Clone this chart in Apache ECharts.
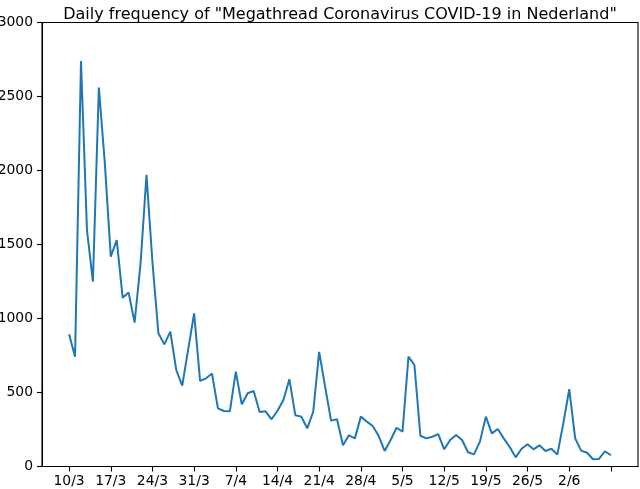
<!DOCTYPE html>
<html>
<head>
<meta charset="utf-8">
<script src="https://cdn.jsdelivr.net/npm/echarts@6/dist/echarts.min.js"></script>
<style>html,body{margin:0;padding:0;background:#fff}#c{width:640px;height:489px}</style>
</head>
<body>
<div id="c"></div>
<script>
const titleText = 'Daily frequency of "Megathread Coronavirus COVID-19 in Nederland"';
// one value per day, starting 10/3 and ending 9/6
const dailyCounts = [
  893, 742, 2740, 1598, 1249, 2560, 2050, 1418, 1530, 1141,
  1175, 972, 1370, 1970, 1380, 900, 825, 911, 652, 546,
  790, 1035, 578, 596, 628, 393, 375, 373, 641, 420,
  495, 510, 368, 373, 319, 377, 449, 590, 346, 337,
  258, 370, 774, 540, 310, 319, 143, 211, 190, 337,
  303, 274, 206, 105, 179, 262, 235, 742, 686, 208,
  190, 201, 219, 116, 179, 213, 179, 96, 82, 168,
  337, 224, 253, 190, 132, 62, 120, 150, 116, 143,
  105, 120, 80, 290, 522, 190, 107, 93, 49, 51,
  103, 76
];
const tickDayIndex = [0, 7, 14, 21, 28, 35, 42, 49, 56, 63, 70, 77, 84, 91];
const tickLabels = ['10/3', '17/3', '24/3', '31/3', '7/4', '14/4', '21/4', '28/4', '5/5', '12/5', '19/5', '26/5', '2/6', ''];
const yTicks = [0, 500, 1000, 1500, 2000, 2500, 3000];

const seriesData = dailyCounts.map((v, i) => [i, v]);
const font = 'DejaVu Sans';
const chart = echarts.init(document.getElementById('c'), null, {renderer: 'canvas'});
chart.setOption({
  animation: false,
  backgroundColor: '#fff',
  title: {
    text: titleText,
    left: 335,
    textAlign: 'center',
    top: 1.5,
    textStyle: {fontFamily: font, fontSize: 16, fontWeight: 'normal', color: '#000'}
  },
  grid: {
    left: 42, right: 2, top: 22.5, bottom: 22.5,
    containLabel: false,
    outerBoundsMode: 'none',
    show: true, borderColor: '#000', borderWidth: 1.1, backgroundColor: 'transparent'
  },
  xAxis: {
    type: 'value',
    min: -4.55,
    max: 95.55,
    splitLine: {show: false},
    axisLine: {show: true, onZero: false, lineStyle: {color: '#000', width: 1.1}},
    axisTick: {show: true, inside: false, length: 5, customValues: tickDayIndex, lineStyle: {color: '#000', width: 1.1}},
    axisLabel: {
      show: true, margin: 8, customValues: tickDayIndex,
      fontFamily: font, fontSize: 13.9, color: '#000',
      formatter: function (v) { const k = tickDayIndex.indexOf(Math.round(v)); return k >= 0 ? tickLabels[k] : ''; }
    }
  },
  yAxis: {
    type: 'value',
    min: yTicks[0],
    max: yTicks[yTicks.length - 1],
    interval: 500,
    splitLine: {show: false},
    axisLine: {show: true, onZero: false, lineStyle: {color: '#000', width: 1.1}},
    axisTick: {show: true, inside: false, length: 5, lineStyle: {color: '#000', width: 1.1}},
    axisLabel: {margin: 9, fontFamily: font, fontSize: 13.9, color: '#000', formatter: function (v) { return String(v); }}
  },
  series: [{
    type: 'line',
    data: seriesData,
    showSymbol: false,
    symbol: 'none',
    lineStyle: {color: '#1f77b4', width: 2},
    itemStyle: {color: '#1f77b4'}
  }]
});
</script>
</body>
</html>
